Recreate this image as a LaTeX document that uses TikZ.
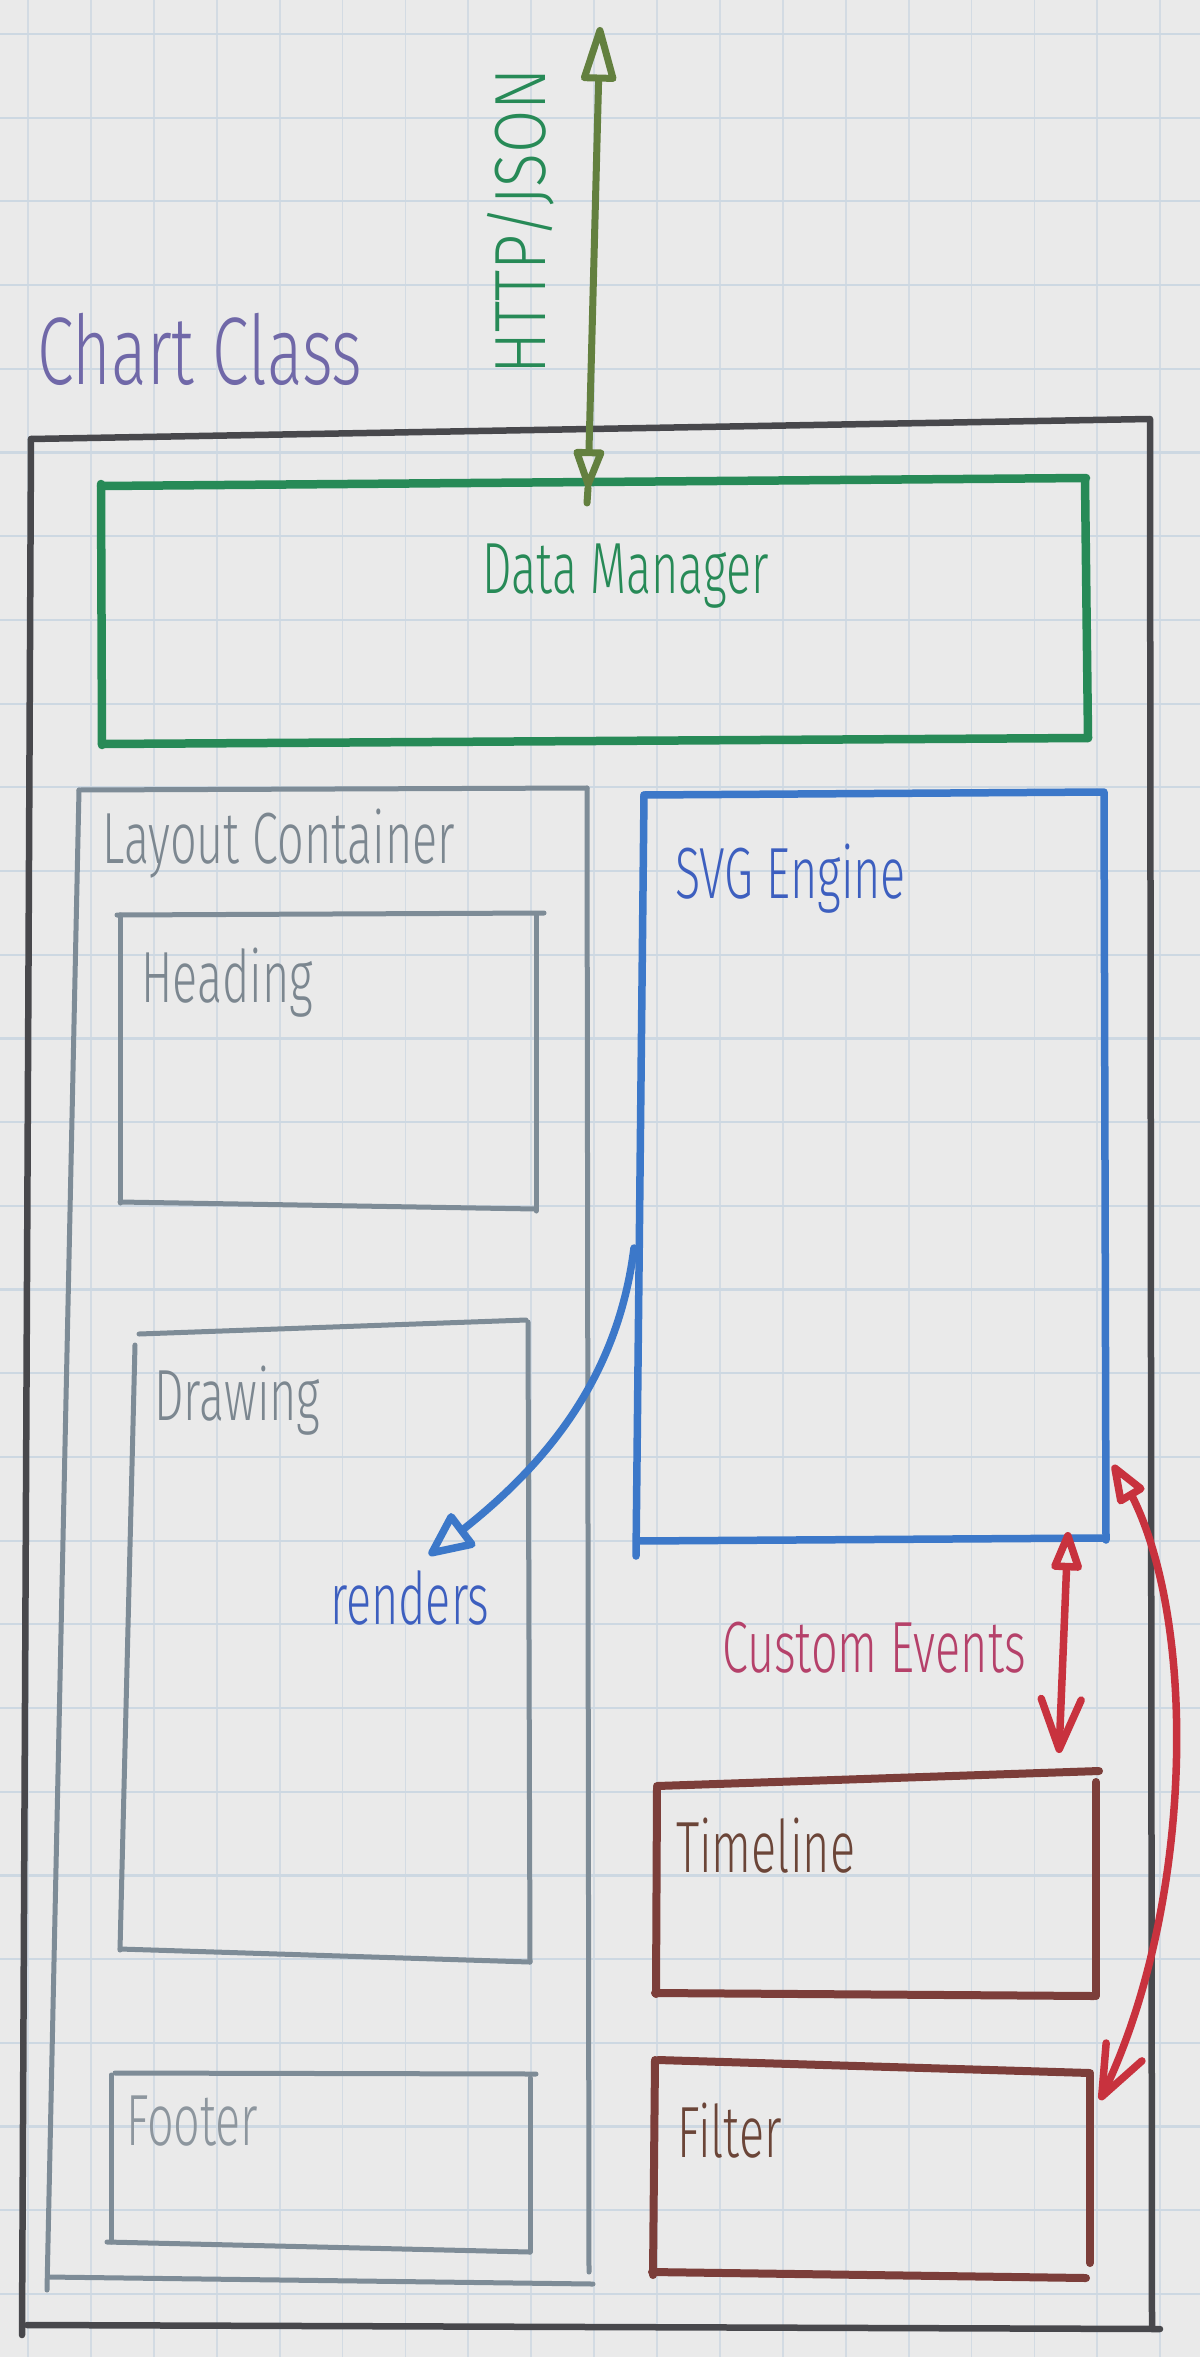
\documentclass[tikz,border=0pt]{standalone}
\usepackage{fontspec}
\usetikzlibrary{arrows.meta,bending}

\IfFontExistsTF{Fira Sans Light}{%
  \newfontfamily\skfont{Fira Sans Light}[FakeStretch=0.645]%
  \newfontfamily\sktitle{Fira Sans Light}[FakeStretch=0.69]%
  \newfontfamily\skwide{Fira Sans Light}[FakeStretch=0.865]%
}{%
  \newfontfamily\skfont{Fira Sans}[FakeStretch=0.645]%
  \newfontfamily\sktitle{Fira Sans}[FakeStretch=0.69]%
  \newfontfamily\skwide{Fira Sans}[FakeStretch=0.865]%
}

\definecolor{paper}{HTML}{EAEAEA}
\definecolor{gridv}{HTML}{D3DBE3}
\definecolor{gridh}{HTML}{CDD8E2}
\definecolor{frame}{HTML}{48484C}
\definecolor{dmgreen}{HTML}{278A57}
\definecolor{olive}{HTML}{63803F}
\definecolor{classpurple}{HTML}{7068A8}
\definecolor{slate}{HTML}{7E8C97}
\definecolor{slatetext}{HTML}{7C8790}
\definecolor{svgblue}{HTML}{3C78C9}
\definecolor{svgtext}{HTML}{3D5FBF}
\definecolor{evred}{HTML}{C8323E}
\definecolor{evtext}{HTML}{B5416A}
\definecolor{brownbox}{HTML}{7C3E3A}
\definecolor{browntext}{HTML}{6B4538}

\tikzset{
  stroke/.style={line cap=round, line join=round},
  outerline/.style={stroke, draw=frame, line width=6.5pt},
  dmline/.style={stroke, draw=dmgreen, line width=8.5pt},
  slateline/.style={stroke, draw=slate, line width=5pt},
  blueline/.style={stroke, draw=svgblue, line width=7.5pt},
  brownline/.style={stroke, draw=brownbox, line width=8pt},
  redline/.style={stroke, draw=evred, line width=7.5pt},
  oliveline/.style={stroke, draw=olive, line width=7pt},
  lbl/.style={inner sep=0pt, anchor=base west, font=\skfont\fontsize{72.5}{80}\selectfont},
  openhead/.tip={Triangle[open, round, length=64pt, width=36pt]},
  smallhead/.tip={Triangle[open, round, length=46pt, width=32pt]},
  rendhead/.tip={Triangle[open, round, length=50pt, width=44pt]},
  barbhead/.tip={Straight Barb[round, length=50pt, width=40pt]},
}

\begin{document}
\begin{tikzpicture}[x=1pt, y=-1pt]
  % paper and grid
  \fill[paper] (0,0) rectangle (1200,2357);
  \useasboundingbox (0,0) rectangle (1200,2357);
  \foreach \i in {0,...,18}
    \draw[gridv, line width=1.8pt] ({28+62.9*\i},0) -- ({28+62.9*\i},2357);
  \foreach \j in {0,...,27}
    \draw[gridh, line width=2.2pt] (0,{34+83.7*\j}) -- (1200,{34+83.7*\j});

  % Chart Class frame
  \draw[outerline] (31,439) -- (1149,419);
  \draw[outerline] (1150,419) -- (1152,2328);
  \draw[outerline] (27,2325) -- (1160,2329);
  \draw[outerline] (31,439) -- (22,2335);
  \node[lbl, text=classpurple, font=\sktitle\fontsize{96}{100}\selectfont]
    (classLbl) at (37,384) {Chart Class};

  % Data Manager
  \draw[dmline] (101,486) -- (1086,478);
  \draw[dmline] (1085,480) -- (1088,738);
  \draw[dmline] (102,744) -- (1088,738);
  \draw[dmline] (101,484) -- (102,745);
  \node[lbl, text=dmgreen] (dmLbl) at (482,593) {Data Manager};

  % Layout Container and its parts
  \draw[slateline] (79,790) -- (587,788);
  \draw[slateline] (587,788) -- (589,2272);
  \draw[slateline] (48,2277) -- (593,2284);
  \draw[slateline] (79,790) -- (47,2290);
  \node[lbl, text=slatetext] (layoutLbl) at (102,863) {Layout Container};

  \draw[slateline] (117,915) -- (544,913);
  \draw[slateline] (536,915) -- (536,1211);
  \draw[slateline] (120,1202) -- (536,1209);
  \draw[slateline] (120,915) -- (120,1203);
  \node[lbl, text=slatetext] (headingLbl) at (141,1002) {Heading};

  \draw[slateline] (139,1334) -- (526,1320);
  \draw[slateline] (528,1322) -- (530,1962);
  \draw[slateline] (120,1949) -- (530,1962);
  \draw[slateline] (135,1345) -- (120,1950);
  \node[lbl, text=slatetext] (drawingLbl) at (154,1420) {Drawing};

  \draw[slateline] (115,2073) -- (536,2074);
  \draw[slateline] (530,2078) -- (530,2252);
  \draw[slateline] (107,2242) -- (530,2252);
  \draw[slateline] (111,2075) -- (111,2242);
  \node[lbl, text=slatetext!85!paper] (footerLbl) at (126,2145) {Footer};

  % SVG Engine
  \draw[blueline] (644,795) -- (1102,792);
  \draw[blueline] (1104,792) -- (1106,1540);
  \draw[blueline] (637,1541) -- (1106,1538);
  \draw[blueline] (644,795) -- (636,1556);
  \node[lbl, text=svgtext] (svgLbl) at (675,898) {SVG Engine};

  % Timeline and Filter
  \draw[brownline] (657,1786) -- (1099,1771);
  \draw[brownline] (1096,1782) -- (1096,1996);
  \draw[brownline] (655,1993) -- (1094,1996);
  \draw[brownline] (657,1788) -- (656,1994);
  \node[lbl, text=browntext] (timelineLbl) at (676,1872) {Timeline};

  \draw[brownline] (658,2060) -- (1090,2073);
  \draw[brownline] (1090,2075) -- (1090,2263);
  \draw[brownline] (652,2272) -- (1086,2278);
  \draw[brownline] (655,2060) -- (653,2275);
  \node[lbl, text=browntext] (filterLbl) at (677,2157) {Filter};

  % connector end points
  \coordinate (httpTop) at (600,27);
  \coordinate (httpBot) at (588,488);
  \coordinate (httpTail) at (587,503);
  \coordinate (svgLeft) at (634,1248);
  \coordinate (rendTip) at (429,1555);
  \coordinate (ceTop) at (1068,1532);
  \coordinate (ceBot) at (1059,1753);
  \coordinate (svgCorner) at (1113,1465);
  \coordinate (filterCorner) at (1100,2100);

  % HTTP/JSON link
  \draw[oliveline, {openhead}-{smallhead}] (httpTop) -- (httpBot);
  \draw[oliveline] (httpBot) -- (httpTail);
  \node[lbl, text=dmgreen, rotate=90, font=\skwide\fontsize{72.5}{80}\selectfont]
    (httpLbl) at (545,375) {HTTP/JSON};

  % renders
  \draw[blueline, -{rendhead}]
    (svgLeft) .. controls (615,1400) and (520,1490) .. (rendTip);
  \node[lbl, text=svgtext] (rendersLbl) at (330,1624) {renders};

  % custom events
  \draw[redline, {smallhead}-{barbhead}] (ceTop) -- (ceBot);
  \node[lbl, text=evtext] (eventsLbl) at (722,1672) {Custom Events};
  \draw[redline, {smallhead}-{barbhead}]
    (svgCorner) .. controls (1200,1580) and (1200,1900) .. (filterCorner);
\end{tikzpicture}
\end{document}
